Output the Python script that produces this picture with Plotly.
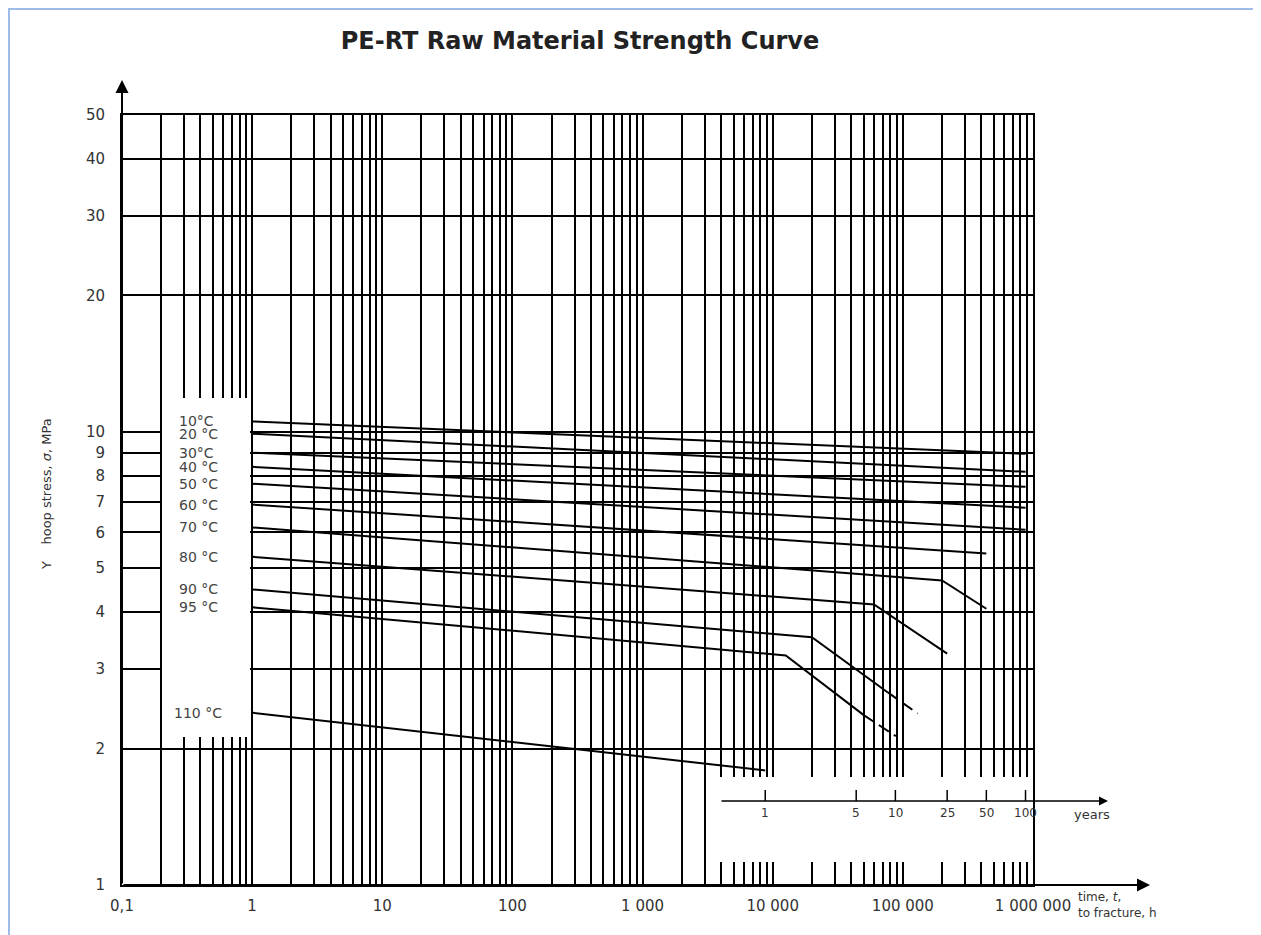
import math
import plotly.graph_objects as go

# ---------------- data ----------------
x_label_vals = [0.1, 1, 10, 100, 1000, 10000, 100000, 1000000]
x_label_text = ["0,1", "1", "10", "100", "1 000", "10 000", "100 000", "1 000 000"]
y_tick_vals = [1, 2, 3, 4, 5, 6, 7, 8, 9, 10, 20, 30, 40, 50]
y_tick_text = ["1", "2", "3", "4", "5", "6", "7", "8", "9", "10", "20", "30", "40", "50"]
year_ticks = [1, 5, 10, 25, 50, 100]
year_tick_text = ["1", "5", "10", "25", "50", "100"]
hours_per_year = 8760

temp_labels = ["10°C", "20 °C", "30°C", "40 °C", "50 °C", "60 °C", "70 °C",
               "80 °C", "90 °C", "95 °C", "110 °C"]

# time to fracture (h) and hoop stress (MPa) for each isotherm
t_10 = [1, 876000];            s_10 = [10.54, 8.94]
t_20 = [1, 876000];            s_20 = [9.90, 8.16]
t_30 = [1, 876000];            s_30 = [8.99, 7.56]
t_40 = [1, 876000];            s_40 = [8.37, 6.80]
t_50 = [1, 876000];            s_50 = [7.68, 6.08]
t_60 = [1, 438000];            s_60 = [6.91, 5.39]
t_70 = [1, 200000, 438000];    s_70 = [6.15, 4.70, 4.07]
t_80 = [1, 60000, 219000];     s_80 = [5.30, 4.16, 3.24]
t_90 = [1, 20000, 76700];      s_90 = [4.49, 3.52, 2.66]
t_95 = [1, 12600, 50100];      s_95 = [4.10, 3.21, 2.37]
t_110 = [1, 8760];             s_110 = [2.40, 1.79]
# dashed extrapolations
t_90_ext = [76700, 130000];    s_90_ext = [2.66, 2.39]
t_95_ext = [50100, 88300];     s_95_ext = [2.37, 2.13]

series_t = [t_10, t_20, t_30, t_40, t_50, t_60, t_70, t_80, t_90, t_95, t_110]
series_s = [s_10, s_20, s_30, s_40, s_50, s_60, s_70, s_80, s_90, s_95, s_110]

# ---------------- geometry helpers ----------------
OFF = 8                      # page body margin
W, H = 1261 - OFF, 935 - OFF
# plot area in reference (screen) pixels
RL, RR, RT, RB = 122, 1033, 115, 885
L, R, T, B = RL - OFF, RR - OFF, RT - OFF, RB - OFF


def px(xr):
    """screen x (reference pixels) -> paper x"""
    return (xr - RL) / (RR - RL)


def py(yr):
    """screen y (reference pixels) -> paper y"""
    return (RB - yr) / (RB - RT)


# grid positions: every digit of every decade
grid_x, grid_x_text = [], []
for i, dec in enumerate(range(-1, 6)):
    for d in range(1, 10):
        grid_x.append(d * 10 ** dec)
        grid_x_text.append(x_label_text[i] if d == 1 else "")
grid_x.append(x_label_vals[-1])
grid_x_text.append(x_label_text[-1])

FONT = "DejaVu Sans"
TXT = "#333333"

fig = go.Figure()

for t, s in zip(series_t, series_s):
    fig.add_trace(go.Scatter(x=t, y=s, mode="lines",
                             line=dict(color="black", width=2),
                             showlegend=False, hoverinfo="skip"))
for t, s in [(t_90_ext, s_90_ext), (t_95_ext, s_95_ext)]:
    fig.add_trace(go.Scatter(x=t, y=s, mode="lines",
                             line=dict(color="black", width=2, dash="12px,6px"),
                             showlegend=False, hoverinfo="skip"))

shapes = []
# white boxes interrupting the grid
shapes.append(dict(type="rect", xref="paper", yref="paper",
                   x0=px(162), x1=px(250), y0=py(737), y1=py(398),
                   fillcolor="white", line=dict(width=0), layer="above"))
shapes.append(dict(type="rect", xref="paper", yref="paper",
                   x0=px(709), x1=px(1030), y0=py(862), y1=py(777),
                   fillcolor="white", line=dict(width=0), layer="above"))
# years axis ticks
for yv in year_ticks:
    xv = yv * hours_per_year
    shapes.append(dict(type="line", xref="x", yref="paper", x0=xv, x1=xv,
                       y0=py(801), y1=py(790),
                       line=dict(color="black", width=1.5), layer="above"))
# light-blue outer frame
shapes.append(dict(type="rect", xref="paper", yref="paper",
                   x0=px(9), x1=px(1254), y0=py(945), y1=py(9),
                   line=dict(color="#9DBDE8", width=2), fillcolor="rgba(0,0,0,0)"))

annotations = []
# temperature labels
for lab, s in zip(temp_labels, series_s):
    annotations.append(dict(text=lab, xref="paper", yref="y",
                            x=px(172 if lab.startswith("110") else 177),
                            y=math.log10(s[0]), xanchor="left", yanchor="middle",
                            showarrow=False,
                            font=dict(family=FONT, size=14, color="#444444")))
# years labels
for yv, yt in zip(year_ticks, year_tick_text):
    annotations.append(dict(text=yt, xref="x", yref="paper",
                            x=math.log10(yv * hours_per_year), y=py(813),
                            xanchor="center", yanchor="middle", showarrow=False,
                            font=dict(family=FONT, size=12, color=TXT)))
annotations.append(dict(text="years", xref="paper", yref="paper", x=px(1092), y=py(814),
                        xanchor="center", yanchor="middle", showarrow=False,
                        font=dict(family=FONT, size=13, color=TXT)))
# axis arrows
annotations.append(dict(text="", xref="paper", yref="paper", x=px(1150), y=0,
                        ax=-(1150 - RL), ay=0, axref="pixel", ayref="pixel",
                        showarrow=True, arrowhead=2, arrowsize=1.3, arrowwidth=2,
                        arrowcolor="black"))
annotations.append(dict(text="", xref="paper", yref="paper", x=0, y=py(80),
                        ax=0, ay=(RB - 80), axref="pixel", ayref="pixel",
                        showarrow=True, arrowhead=2, arrowsize=1.3, arrowwidth=2,
                        arrowcolor="black"))
annotations.append(dict(text="", xref="paper", yref="paper", x=px(1108), y=py(801),
                        ax=-(1108 - 720), ay=0, axref="pixel", ayref="pixel",
                        showarrow=True, arrowhead=2, arrowsize=1.2, arrowwidth=1.5,
                        arrowcolor="black"))
# axis titles
annotations.append(dict(text="time, <i>t</i>,<br>to fracture, h", xref="paper", yref="paper",
                        x=px(1076), y=py(905), xanchor="left", yanchor="middle",
                        align="left", showarrow=False,
                        font=dict(family=FONT, size=12, color=TXT)))
annotations.append(dict(text="Y\u00a0\u00a0\u00a0\u00a0hoop stress, <i>σ</i>, MPa",
                        xref="paper", yref="paper", x=px(46), y=py(494),
                        xanchor="center", yanchor="middle", textangle=-90,
                        showarrow=False, font=dict(family=FONT, size=13, color=TXT)))

fig.update_layout(
    width=W, height=H, autosize=False,
    margin=dict(l=L, r=W - R, t=T, b=H - B, pad=0),
    paper_bgcolor="white", plot_bgcolor="white", showlegend=False,
    font=dict(family=FONT, color=TXT),
    title=dict(text="<b>PE-RT Raw Material Strength Curve</b>",
               xref="container", x=(580 - OFF) / W, xanchor="center",
               yref="container", y=1 - (41 - OFF) / H, yanchor="middle",
               font=dict(family=FONT, size=24, color="#222222")),
    xaxis=dict(type="log", range=[-1, 6], tickmode="array",
               tickvals=grid_x, ticktext=grid_x_text,
               showgrid=True, gridcolor="black", gridwidth=1.6,
               showline=True, linecolor="black", linewidth=2, mirror=True,
               ticks="", zeroline=False, ticklabelstandoff=6,
               tickfont=dict(family=FONT, size=15, color=TXT)),
    yaxis=dict(type="log", range=[0, math.log10(50)], tickmode="array",
               tickvals=y_tick_vals, ticktext=y_tick_text,
               showgrid=True, gridcolor="black", gridwidth=1.6,
               showline=True, linecolor="black", linewidth=2, mirror=True,
               ticks="", zeroline=False, ticklabelstandoff=12,
               tickfont=dict(family=FONT, size=15, color=TXT)),
    shapes=shapes,
    annotations=annotations,
)

fig.write_html("out.html")
